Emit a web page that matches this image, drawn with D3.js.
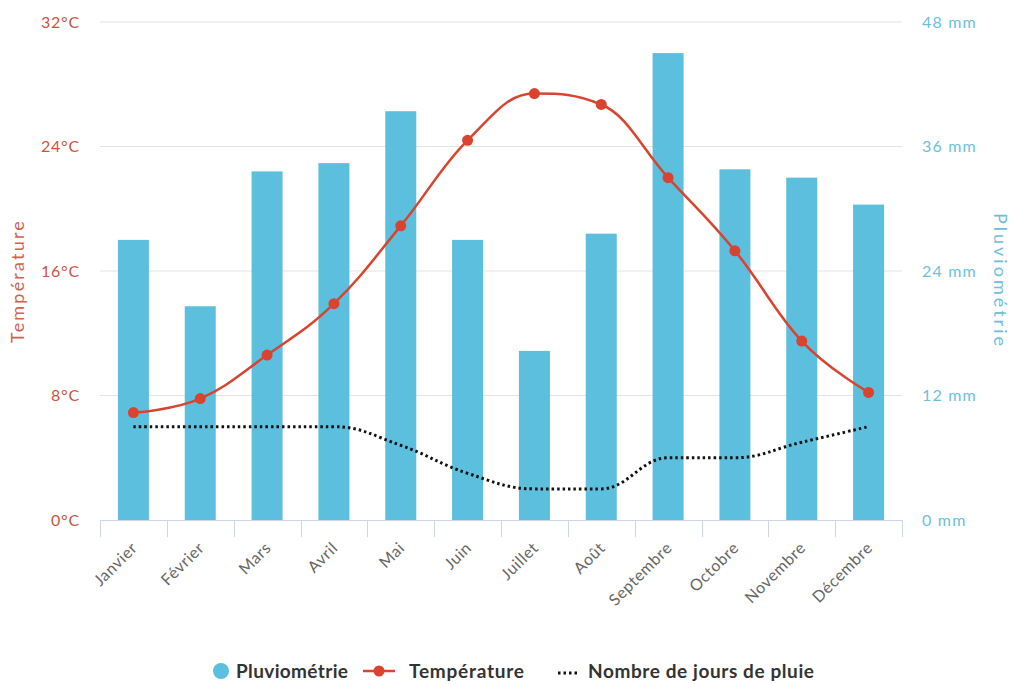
<!DOCTYPE html>
<html lang="fr">
<head>
<meta charset="utf-8">
<script src="https://cdn.jsdelivr.net/npm/d3@7"></script>
<style>
  html, body { margin: 0; padding: 0; background: #fff; }
  svg { display: block; font-family: Lato, "Open Sans", sans-serif; }
</style>
</head>
<body>
<svg id="chart" width="1014" height="684"></svg>
<script>
// Monthly climate data
const months = ["Janvier", "Février", "Mars", "Avril", "Mai", "Juin", "Juillet", "Août", "Septembre", "Octobre", "Novembre", "Décembre"];
const rainfall = [27, 20.6, 33.6, 34.4, 39.4, 27, 16.3, 27.6, 45, 33.8, 33, 30.4];      // mm
const temperature = [6.9, 7.8, 10.6, 13.9, 18.9, 24.4, 27.4, 26.7, 22, 17.3, 11.5, 8.2]; // °C
const rainDays = [6, 6, 6, 6, 4.8, 3, 2, 2, 4, 4, 5, 6];
const tempTicks = [0, 8, 16, 24, 32];
const rainTicks = [0, 12, 24, 36, 48];

const colors = { bar: "#5bbfdd", temp: "#d9432f", days: "#111", grid: "#e3e3e3", axis: "#ccd6eb" };

const svg = d3.select("#chart");
const plot = { left: 100, right: 902, top: 22, bottom: 520 };

const x = d3.scaleBand().domain(months).range([plot.left, plot.right]).paddingInner(0).paddingOuter(0);
const yT = d3.scaleLinear().domain([0, 32]).range([plot.bottom, plot.top]);
const yR = d3.scaleLinear().domain([0, 48]).range([plot.bottom, plot.top]);
const cx = m => x(m) + x.bandwidth() / 2;

// Horizontal grid lines
svg.append("g").selectAll("line").data(tempTicks.slice(1)).join("line")
  .attr("x1", plot.left).attr("x2", plot.right)
  .attr("y1", d => yT(d)).attr("y2", d => yT(d))
  .attr("stroke", colors.grid).attr("stroke-width", 1);

// Left axis labels (temperature)
svg.append("g").selectAll("text").data(tempTicks).join("text")
  .attr("x", 80).attr("y", d => yT(d)).attr("dy", "0.35em")
  .attr("text-anchor", "end").attr("fill", "#c9553f").attr("font-size", 16)
  .attr("letter-spacing", 0.8)
  .text(d => d + "°C");

// Right axis labels (rainfall)
svg.append("g").selectAll("text").data(rainTicks).join("text")
  .attr("x", 922).attr("y", d => yR(d)).attr("dy", "0.35em")
  .attr("text-anchor", "start").attr("fill", "#6dbfdc").attr("font-size", 16)
  .attr("letter-spacing", 1.2)
  .text(d => d + " mm");

// Axis titles
svg.append("text")
  .attr("transform", `translate(24,${(plot.top + plot.bottom) / 2 + 10}) rotate(-90)`)
  .attr("text-anchor", "middle").attr("fill", "#d0614f").attr("font-size", 18)
  .attr("letter-spacing", 2.2)
  .text("Température");
svg.append("text")
  .attr("transform", `translate(994,${(plot.top + plot.bottom) / 2 + 10}) rotate(90)`)
  .attr("text-anchor", "middle").attr("fill", "#6dbfdc").attr("font-size", 18)
  .attr("letter-spacing", 3)
  .text("Pluviométrie");

// Rainfall bars
const barW = 31;
svg.append("g").selectAll("rect").data(months).join("rect")
  .attr("x", (m) => cx(m) - barW / 2)
  .attr("width", barW)
  .attr("y", (m, i) => yR(rainfall[i]))
  .attr("height", (m, i) => yR(0) - yR(rainfall[i]))
  .attr("fill", colors.bar);

// X axis line and category ticks
const xAxis = svg.append("g");
xAxis.append("line")
  .attr("x1", plot.left).attr("x2", plot.right)
  .attr("y1", plot.bottom + 0.5).attr("y2", plot.bottom + 0.5)
  .attr("stroke", colors.axis);
const boundaries = months.map(m => x(m)).concat([x(months[months.length - 1]) + x.bandwidth()]);
xAxis.selectAll("line.tick").data(boundaries).join("line").attr("class", "tick")
  .attr("x1", d => Math.round(d) + 0.5).attr("x2", d => Math.round(d) + 0.5)
  .attr("y1", plot.bottom).attr("y2", plot.bottom + 17)
  .attr("stroke", colors.axis);
xAxis.selectAll("text").data(months).join("text")
  .attr("transform", m => `translate(${cx(m) + 1},${plot.bottom + 25}) rotate(-45)`)
  .attr("text-anchor", "end").attr("dy", "0.35em")
  .attr("fill", "#666").attr("font-size", 16).attr("letter-spacing", 0.6)
  .text(m => m);

// Smooth spline in the style of a Highcharts "spline" series
function splinePath(pts) {
  const p = d3.path();
  const smoothing = 1.5, denom = smoothing + 1;
  let prevRight = null;
  pts.forEach((pt, i) => {
    const [px, py] = pt;
    if (i === 0) { p.moveTo(px, py); prevRight = [px, py]; return; }
    let lc = [px, py], rc = [px, py];
    if (i < pts.length - 1) {
      const [lx, ly] = pts[i - 1], [nx, ny] = pts[i + 1];
      let lcx = (smoothing * px + lx) / denom, lcy = (smoothing * py + ly) / denom;
      let rcx = (smoothing * px + nx) / denom, rcy = (smoothing * py + ny) / denom;
      if (rcx !== lcx) {
        const corr = ((rcy - lcy) * (rcx - px)) / (rcx - lcx) + py - rcy;
        lcy += corr; rcy += corr;
      }
      if (lcy > ly && lcy > py) { lcy = Math.max(ly, py); rcy = 2 * py - lcy; }
      else if (lcy < ly && lcy < py) { lcy = Math.min(ly, py); rcy = 2 * py - lcy; }
      if (rcy > ny && rcy > py) { rcy = Math.max(ny, py); lcy = 2 * py - rcy; }
      else if (rcy < ny && rcy < py) { rcy = Math.min(ny, py); lcy = 2 * py - rcy; }
      lc = [lcx, lcy]; rc = [rcx, rcy];
    }
    p.bezierCurveTo(prevRight[0], prevRight[1], lc[0], lc[1], px, py);
    prevRight = rc;
  });
  return p.toString();
}

// Rainy days (dotted spline)
const dayPts = months.map((m, i) => [cx(m), yT(rainDays[i])]);
svg.append("path")
  .attr("d", splinePath(dayPts))
  .attr("fill", "none").attr("stroke", colors.days)
  .attr("stroke-width", 3).attr("stroke-dasharray", "2.5,3");

// Temperature spline with markers
const tempPts = months.map((m, i) => [cx(m), yT(temperature[i])]);
svg.append("path")
  .attr("d", splinePath(tempPts))
  .attr("fill", "none").attr("stroke", colors.temp).attr("stroke-width", 2.5);
svg.append("g").selectAll("circle").data(months).join("circle")
  .attr("cx", m => cx(m)).attr("cy", (m, i) => yT(temperature[i]))
  .attr("r", 5.5).attr("fill", colors.temp);

// Legend
const legend = svg.append("g").attr("font-size", 19).attr("font-weight", "bold").attr("fill", "#333");
const ly = 671;
legend.append("circle").attr("cx", 221).attr("cy", ly).attr("r", 8).attr("fill", colors.bar);
legend.append("text").attr("x", 236).attr("y", ly).attr("dy", "0.35em").attr("textLength", 112).text("Pluviométrie");
legend.append("line").attr("x1", 363).attr("x2", 395).attr("y1", ly).attr("y2", ly)
  .attr("stroke", colors.temp).attr("stroke-width", 2.5);
legend.append("circle").attr("cx", 379).attr("cy", ly).attr("r", 5.5).attr("fill", colors.temp);
legend.append("text").attr("x", 409).attr("y", ly).attr("dy", "0.35em").attr("textLength", 115).text("Température");
legend.append("line").attr("x1", 558).attr("x2", 580).attr("y1", ly + 2).attr("y2", ly + 2)
  .attr("stroke", colors.days).attr("stroke-width", 3).attr("stroke-dasharray", "2.5,3");
legend.append("text").attr("x", 588).attr("y", ly).attr("dy", "0.35em").attr("textLength", 226).text("Nombre de jours de pluie");
</script>
</body>
</html>
